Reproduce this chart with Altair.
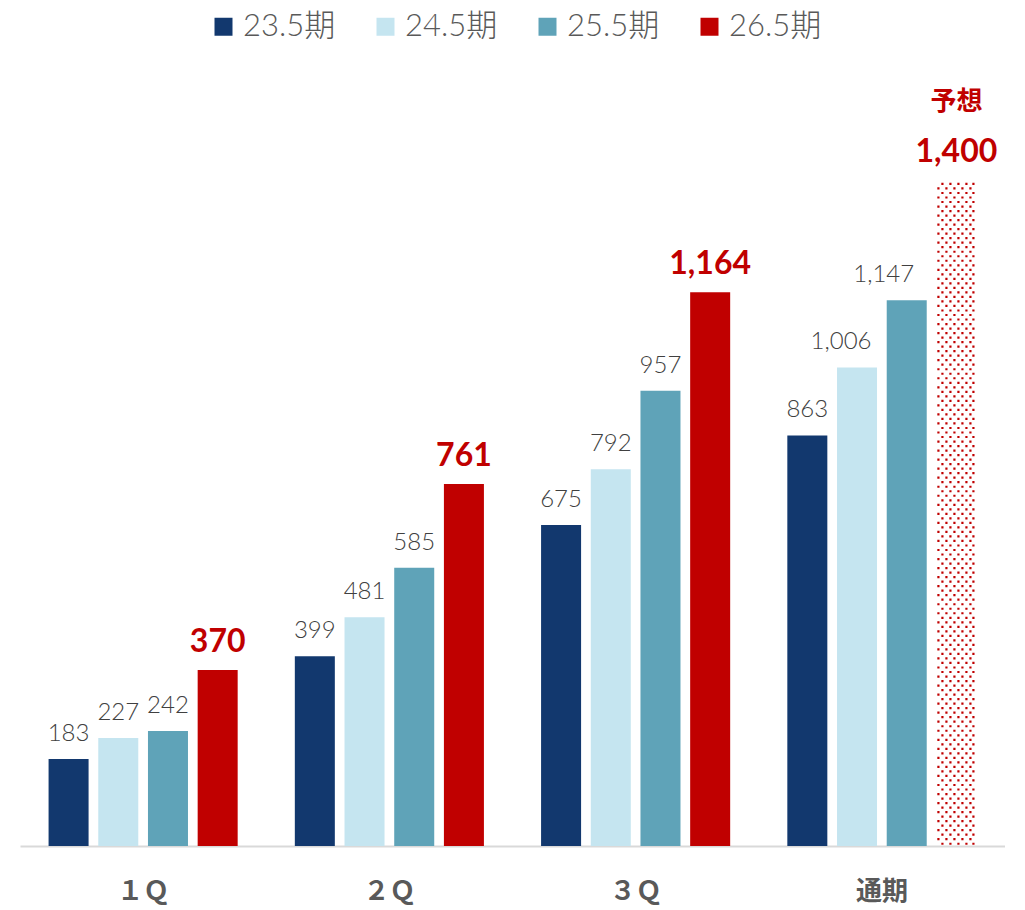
import altair as alt
import pandas as pd
import numpy as np

quarters = ["１Ｑ", "２Ｑ", "３Ｑ", "通期"]
series = ["23.5期", "24.5期", "25.5期", "26.5期"]
v23 = [183, 399, 675, 863]
v24 = [227, 481, 792, 1006]
v25 = [242, 585, 957, 1147]
v26 = [370, 761, 1164, 1400]
forecast_quarter = "通期"
forecast_series = "26.5期"
forecast_note = "予想"
colors = ["#12386e", "#c5e5f0", "#5fa3b8", "#c00000"]

rows = []
for s, vals in zip(series, [v23, v24, v25, v26]):
    for q, v in zip(quarters, vals):
        rows.append({"q": q, "s": s, "v": v,
                     "fc": (q == forecast_quarter and s == forecast_series)})
df = pd.DataFrame(rows)

actual = df[~df["fc"]]
fc = df[df["fc"]]
fc_value = float(fc["v"].iloc[0])

# dot texture for the forecast bar (one row of dots per point symbol)
step = 9.5
ys = np.arange(step / 2, fc_value, step)
dots = pd.DataFrame({"q": forecast_quarter, "s": forecast_series, "y": ys,
                     "row": np.arange(len(ys)) % 2})


def dot_row(centers, half=0.055):
    parts = []
    for c in centers:
        parts.append(f"M{c - half:.3f},{-half:.3f}h{2 * half:.3f}v{2 * half:.3f}h{-2 * half:.3f}Z")
    return " ".join(parts)


row_shapes = {0: dot_row([-0.7, -0.3, 0.1, 0.5, 0.85]),
              1: dot_row([-0.9, -0.5, -0.1, 0.3, 0.7])}

# labels nudged left in the original (style only)
label_nudge = {("通期", "24.5期"): -16, ("通期", "25.5期"): -23}

top_pad = 3
plot_h = 838 - top_pad
ymax = plot_h / 0.4757
x_enc = alt.X("q:N", sort=quarters, title=None,
              scale=alt.Scale(paddingInner=0, paddingOuter=0),
              axis=alt.Axis(labelFont="Noto Sans CJK JP", labelFontWeight="bold",
                            labelFontSize=26, labelColor="#595959", ticks=False,
                            labelPadding=32, domainColor="#d9d9d9", domainWidth=2,
                            labelAngle=0, grid=False))
xo_enc = alt.XOffset("s:N", sort=series,
                     scale=alt.Scale(paddingInner=0.195, paddingOuter=0.575))
y_scale = alt.Scale(domain=[0, ymax], nice=False, zero=True)

bars = alt.Chart(actual).mark_bar().encode(
    x=x_enc, xOffset=xo_enc,
    y=alt.Y("v:Q", scale=y_scale, axis=None),
    color=alt.Color("s:N", sort=series,
                    scale=alt.Scale(domain=series, range=colors),
                    legend=alt.Legend(title=None, orient="none", direction="horizontal",
                                      legendX=188, legendY=0, symbolType="square",
                                      symbolSize=324, symbolStrokeWidth=0,
                                      labelFont="Lato, Noto Sans CJK JP",
                                      labelFontSize=31, labelColor="#595959",
                                      labelFontWeight=300, labelOffset=4,
                                      columnPadding=34, padding=0)),
)

gray = df[df["s"] != forecast_series].copy()
gray["key"] = list(zip(gray["q"], gray["s"]))
gray_plain = gray[~gray["key"].isin(label_nudge.keys())].drop(columns="key")

text_style = dict(baseline="alphabetic", dy=-18, fontSize=24, font="Lato",
                  fontWeight=300, color="#404040")
enc = dict(x=alt.X("q:N", sort=quarters), xOffset=alt.XOffset("s:N", sort=series),
           y=alt.Y("v:Q", scale=y_scale), text=alt.Text("v:Q", format=","))

label_layers = [alt.Chart(gray_plain).mark_text(**text_style).encode(**enc)]
for key, dx in label_nudge.items():
    sub = gray[gray["key"] == key].drop(columns="key")
    label_layers.append(alt.Chart(sub).mark_text(dx=dx, **text_style).encode(**enc))

red_labels = alt.Chart(df[df["s"] == forecast_series]).mark_text(
    baseline="alphabetic", dy=-18, fontSize=32, font="Lato", fontWeight="bold",
    color="#c00000").encode(**enc)

note = alt.Chart(fc.assign(note=forecast_note)).mark_text(
    baseline="alphabetic", dy=-70, fontSize=26, font="Noto Sans CJK JP",
    fontWeight="bold", color="#c00000").encode(
    x=alt.X("q:N", sort=quarters), xOffset=alt.XOffset("s:N", sort=series),
    y=alt.Y("v:Q", scale=y_scale), text="note:N")

layers = [bars]
for r, shape in row_shapes.items():
    layers.append(
        alt.Chart(dots[dots["row"] == r]).mark_point(
            shape=shape, size=1600, filled=True, fill="#c00000", strokeWidth=0,
            opacity=1).encode(
            x=alt.X("q:N", sort=quarters),
            xOffset=alt.XOffset("s:N", sort=series),
            y=alt.Y("y:Q", scale=y_scale)))
layers += label_layers + [red_labels, note]

chart = alt.layer(*layers).properties(
    width=985, height=plot_h,
    padding={"left": 12, "top": top_pad, "right": 0, "bottom": 6},
    background="white",
).configure_view(stroke=None)

chart.save("out.html", embed_options={"renderer": "svg", "actions": False})
